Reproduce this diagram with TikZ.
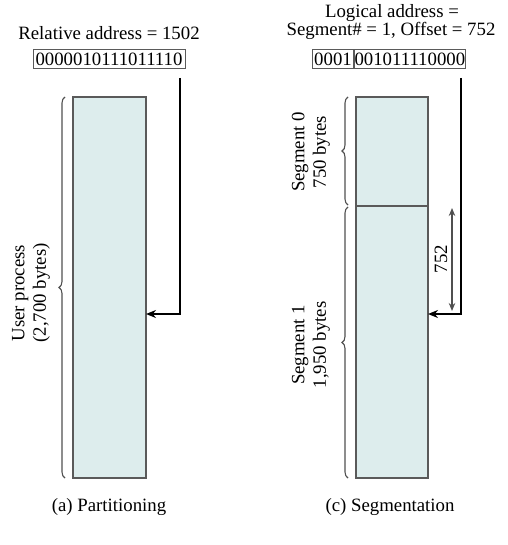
\documentclass[tikz,border=0pt]{standalone}
\usepackage{fontspec}
\setmainfont{Liberation Serif}
\usetikzlibrary{decorations.pathreplacing,arrows.meta,calc}
\definecolor{memfill}{RGB}{221,237,237}
\definecolor{memline}{RGB}{90,90,90}
\definecolor{brcol}{RGB}{80,80,80}
\begin{document}
\begin{tikzpicture}[x=1pt,y=-1pt,font=\fontsize{18.8}{21.5}\selectfont,
  mem/.style={draw=memline,line width=1.3pt,fill=memfill},
  brc/.style={draw=brcol,line width=1.1pt,decorate,decoration={brace,amplitude=6pt}},
  ptr/.style={draw=black,line width=1.8pt,-{Stealth[length=10pt,width=8pt]}},
  dim/.style={draw=brcol,line width=1.1pt,{Stealth[length=8pt,width=6.5pt]}-{Stealth[length=8pt,width=6.5pt]}},
  bits/.style={draw=memline,line width=1pt,inner xsep=0pt,inner ysep=0pt,minimum height=19pt},
  lbl/.style={inner sep=0pt,align=center}]
\useasboundingbox (0,0) rectangle (507,545);

% ---------- (a) Partitioning ----------
\node[lbl] (relA) at (109,33) {Relative address = 1502};
\node[bits,minimum width=152pt] (bitsA) at (109,59.5) {0000010111011110};
\draw[mem] (73,97) rectangle (146,478);
\coordinate (topA) at (180,78);
\coordinate (hitA) at (146,314);
\draw[ptr] (topA) |- (hitA);
\draw[brc] (65,478) -- (65,97);
\node[lbl,rotate=90] (userA) at (31,293) {User process\\(2,700 bytes)};
\node[lbl] (capA) at (109,507) {(a) Partitioning};

% ---------- (c) Segmentation ----------
\node[lbl] (logC) at (392,13) {Logical address =};
\node[lbl] (segC) at (391,31) {Segment\# = 1, Offset = 752};
\node[bits,minimum width=41pt,anchor=east] (bitsS) at (354,59.5) {0001};
\node[bits,minimum width=110pt,anchor=west] (bitsO) at (354,59.5) {001011110000};
\draw[mem] (356,97) rectangle (428,478);
\draw[draw=memline,line width=1.3pt] (356,206) -- (428,206);
\coordinate (topC) at (461,78);
\coordinate (hitC) at (428,314);
\draw[ptr] (topC) |- (hitC);
\coordinate (offT) at (452,208);
\coordinate (offB) at (452,311);
\draw[dim] (offT) -- (offB);
\node[lbl,rotate=90] (offL) at (441,259) {752};
\draw[brc] (348,205) -- (348,97);
\draw[brc] (348,478) -- (348,207);
\node[lbl,rotate=90] (seg0) at (311,152) {Segment 0\\750 bytes};
\node[lbl,rotate=90] (seg1) at (311,345) {Segment 1\\1,950 bytes};
\node[lbl] (capC) at (390,507) {(c) Segmentation};
\end{tikzpicture}
\end{document}
